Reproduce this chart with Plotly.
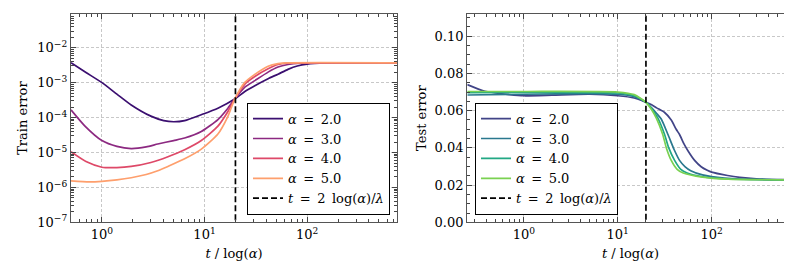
import numpy as np
import plotly.graph_objects as go

# ---------------- data ----------------
alphas = ["2.0", "3.0", "4.0", "5.0"]
vline_x = 20.0  # t = 2 log(alpha)/lambda  ->  t/log(alpha) = 20

# Train error (left panel)
train_x_a2 = [0.5, 0.7, 1.0, 1.4, 1.93, 3.0, 4.0, 5.0, 6.4, 9.3, 13.5, 19.7, 24.7, 30.9, 41.6, 52, 65, 80, 100, 150, 250, 750]
train_y_a2 = [3.7e-3, 1.95e-3, 1.0e-3, 4.7e-4, 2.3e-4, 1.1e-4, 8.2e-5, 7.6e-5, 8.2e-5, 1.21e-4, 1.86e-4, 3.4e-4,
              5.6e-4, 8.2e-4, 1.3e-3, 1.75e-3, 2.4e-3, 3.0e-3, 3.4e-3, 3.65e-3, 3.7e-3, 3.7e-3]

train_x_a3 = [0.5, 0.68, 1.0, 1.4, 1.93, 2.7, 3.5, 5.0, 6.4, 9.3, 13.5, 16.9, 19.7, 24.7, 30.9, 41.6, 52, 65, 85, 120, 750]
train_y_a3 = [1.66e-4, 5.8e-5, 2.2e-5, 1.5e-5, 1.3e-5, 1.45e-5, 1.75e-5, 2.2e-5, 2.6e-5, 4.0e-5, 8.8e-5, 1.86e-4, 3.4e-4,
              7.4e-4, 1.14e-3, 2.0e-3, 2.8e-3, 3.3e-3, 3.6e-3, 3.7e-3, 3.7e-3]

train_x_a4 = [0.5, 0.7, 1.0, 1.4, 1.93, 3.0, 4.4, 6.4, 9.3, 13.5, 16.9, 19.7, 24.7, 30.9, 41.6, 52, 65, 90, 750]
train_y_a4 = [1.05e-5, 5.5e-6, 3.8e-6, 3.7e-6, 4.0e-6, 5.2e-6, 7.6e-6, 1.2e-5, 2.2e-5, 5.7e-5, 1.5e-4, 3.4e-4,
              9.1e-4, 1.5e-3, 2.5e-3, 3.3e-3, 3.6e-3, 3.7e-3, 3.7e-3]

train_x_a5 = [0.5, 0.75, 1.0, 1.4, 1.93, 2.7, 3.5, 4.4, 6.4, 9.3, 13.5, 16.9, 19.7, 24.7, 30.9, 41.6, 52, 65, 750]
train_y_a5 = [1.55e-6, 1.45e-6, 1.5e-6, 1.65e-6, 1.9e-6, 2.35e-6, 3.0e-6, 4.0e-6, 6.6e-6, 1.25e-5, 3.4e-5, 1.09e-4,
              3.4e-4, 1.02e-3, 1.73e-3, 2.96e-3, 3.5e-3, 3.7e-3, 3.7e-3]

# Test error (right panel)
test_x_a2 = [0.25, 0.37, 0.5, 0.7, 1.0, 2.0, 5.0, 10, 15, 20, 23, 26, 31.6, 37.2, 42, 45.6, 51, 56, 66, 77.5, 90, 100, 148, 200, 300, 750]
test_y_a2 = [0.0740, 0.0707, 0.0695, 0.0686, 0.0680, 0.0683, 0.0688, 0.0680, 0.0668, 0.0645, 0.0632, 0.0615, 0.0590,
             0.0550, 0.0500, 0.0472, 0.0420, 0.0385, 0.0333, 0.0299, 0.0280, 0.0270, 0.0252, 0.0242, 0.0234, 0.0228]

test_x_a3 = [0.25, 1.0, 5.0, 10, 15, 20, 23, 26, 29.1, 34.3, 40, 45.6, 52, 60, 80, 100, 200, 750]
test_y_a3 = [0.0684, 0.0688, 0.0692, 0.0688, 0.0675, 0.0645, 0.0615, 0.0585, 0.0555, 0.0472, 0.0390, 0.0333, 0.0300,
             0.0278, 0.0255, 0.0246, 0.0233, 0.0228]

test_x_a4 = [0.25, 1.0, 10, 15, 20, 23, 26.8, 31.6, 35, 40.4, 47, 55, 80, 150, 750]
test_y_a4 = [0.0697, 0.0698, 0.0695, 0.0680, 0.0645, 0.0610, 0.0560, 0.0472, 0.0400, 0.0333, 0.0285, 0.0265, 0.0245,
             0.0233, 0.0228]

test_x_a5 = [0.25, 1.0, 10, 15, 20, 23, 25.8, 30.2, 33, 37.2, 43, 50, 80, 150, 750]
test_y_a5 = [0.0703, 0.0703, 0.0700, 0.0686, 0.0645, 0.0605, 0.0560, 0.0472, 0.0400, 0.0333, 0.0285, 0.0265, 0.0243,
             0.0232, 0.0228]

train_series = [(train_x_a2, train_y_a2), (train_x_a3, train_y_a3), (train_x_a4, train_y_a4), (train_x_a5, train_y_a5)]
test_series = [(test_x_a2, test_y_a2), (test_x_a3, test_y_a3), (test_x_a4, test_y_a4), (test_x_a5, test_y_a5)]

magma_cols = ["#3b0f70", "#8c2981", "#de4968", "#fe9f6d"]
viridis_cols = ["#414487", "#2a788e", "#22a884", "#7ad151"]

# ---------------- figure ----------------
W, H = 792, 268
FONT = "DejaVu Serif, serif"
SP = "\u2002"
fig = go.Figure()

LINE = dict(width=1.7, shape="spline", smoothing=0.6)
vlabel = f"<i>t</i>{SP}={SP}2{SP}log(<i>α</i>)/<i>λ</i>"
for (xs, ys), c, a in zip(train_series, magma_cols, alphas):
    fig.add_trace(go.Scatter(x=xs, y=ys, mode="lines", line=dict(LINE, color=c),
                             name=f"<i>α</i>{SP}={SP}{a}", xaxis="x", yaxis="y", legend="legend"))
fig.add_trace(go.Scatter(x=[vline_x, vline_x], y=[1e-9, 1.0], mode="lines",
                         line=dict(color="black", width=1.7, dash="6px,3px"),
                         name=vlabel, xaxis="x", yaxis="y", legend="legend"))

for (xs, ys), c, a in zip(test_series, viridis_cols, alphas):
    fig.add_trace(go.Scatter(x=xs, y=ys, mode="lines", line=dict(LINE, color=c),
                             name=f"<i>α</i>{SP}={SP}{a}", xaxis="x2", yaxis="y2", legend="legend2"))
fig.add_trace(go.Scatter(x=[vline_x, vline_x], y=[-0.1, 0.5], mode="lines",
                         line=dict(color="black", width=1.7, dash="6px,3px"),
                         name=vlabel, xaxis="x2", yaxis="y2", legend="legend2"))


def log_minor(lo, hi):
    vals = []
    for k in range(lo, hi + 1):
        for m in range(2, 10):
            vals.append(m * 10.0 ** k)
    return vals


def pw(k):
    s = str(k).replace("-", "\u2212")
    return f"10<sup>{s}</sup>"


TICKC = "#444444"
frame = dict(showline=True, linecolor="#555555", linewidth=1.3, mirror="allticks", ticks="inside",
             ticklen=5, tickwidth=1, tickcolor=TICKC, showgrid=True, gridcolor="#c8c8c8",
             griddash="3px,2px", gridwidth=0.8, zeroline=False,
             tickfont=dict(family=FONT, size=13, color="black"))
minor_base = dict(ticks="inside", ticklen=3, tickcolor=TICKC, tickwidth=0.8, showgrid=False)
TITLEF = dict(family=FONT, size=13, color="black")

xdom1 = [63 / W, 389 / W]
xdom2 = [459.3 / W, 785.7 / W]
ydom = [(H - 221) / H, (H - 6) / H]

xmaj = [0, 1, 2]
fig.update_layout(
    width=W, height=H, margin=dict(l=0, r=0, t=0, b=0),
    paper_bgcolor="white", plot_bgcolor="white",
    font=dict(family=FONT, size=13, color="black"),
    showlegend=True,
    xaxis=dict(frame, type="log", domain=xdom1, anchor="y", range=[np.log10(0.5), np.log10(750)],
               tickmode="array", tickvals=[10.0 ** k for k in xmaj], ticktext=[pw(k) for k in xmaj],
               minor=dict(minor_base, tickmode="array", tickvals=log_minor(-1, 2)),
               title=dict(text="<i>t</i> / log(<i>α</i>)", font=TITLEF, standoff=7)),
    yaxis=dict(frame, type="log", domain=ydom, anchor="x", range=[-7, -1.03],
               tickmode="array", tickvals=[10.0 ** k for k in range(-7, -1)], ticktext=[pw(k) for k in range(-7, -1)],
               minor=dict(minor_base, tickmode="array", tickvals=log_minor(-7, -2)),
               title=dict(text="Train error", font=TITLEF, standoff=6)),
    xaxis2=dict(frame, type="log", domain=xdom2, anchor="y2", range=[np.log10(0.25), np.log10(750)],
                tickmode="array", tickvals=[10.0 ** k for k in xmaj], ticktext=[pw(k) for k in xmaj],
                minor=dict(minor_base, tickmode="array", tickvals=log_minor(-1, 2)),
                title=dict(text="<i>t</i> / log(<i>α</i>)", font=TITLEF, standoff=7)),
    yaxis2=dict(frame, domain=ydom, anchor="x2", range=[0, 0.112],
                tickmode="array", tickvals=[0, 0.02, 0.04, 0.06, 0.08, 0.10],
                ticktext=["0.00", "0.02", "0.04", "0.06", "0.08", "0.10"],
                minor=dict(minor_base, dtick=0.005),
                title=dict(text="Test error", font=TITLEF, standoff=5)),
    legend=dict(x=382 / W, xanchor="right", y=(H - 213) / H, yanchor="bottom",
                bgcolor="white", bordercolor="black", borderwidth=1,
                font=dict(family=FONT, size=13), tracegroupgap=0),
    legend2=dict(x=467 / W, xanchor="left", y=(H - 213) / H, yanchor="bottom",
                 bgcolor="white", bordercolor="black", borderwidth=1,
                 font=dict(family=FONT, size=13), tracegroupgap=0),
)

fig.write_html("out.html")
